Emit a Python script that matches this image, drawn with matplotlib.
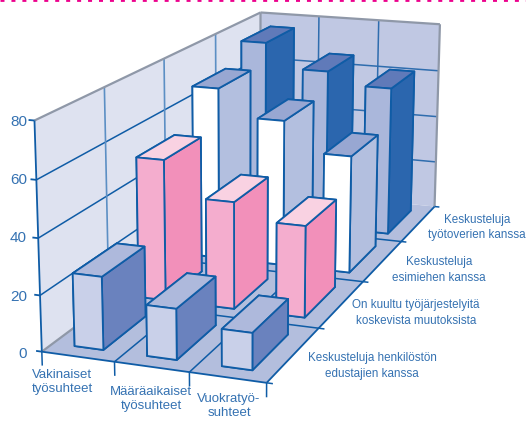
import matplotlib
matplotlib.use("Agg")
import matplotlib.pyplot as plt
from matplotlib.lines import Line2D
from mpl_toolkits.mplot3d.art3d import Poly3DCollection

plt.rcParams["font.family"] = ["Liberation Sans", "DejaVu Sans"]

employment = ["Vakinaiset\ntyösuhteet", "Määräaikaiset\ntyösuhteet", "Vuokratyö-\nsuhteet"]
topics = ["Keskusteluja henkilöstön\nedustajien kanssa",
          "On kuultu työjärjestelyitä\nkoskevista muutoksista",
          "Keskusteluja\nesimiehen kanssa",
          "Keskusteluja\ntyötoverien kanssa"]
z_ticks = [0, 20, 40, 60, 80]

# one list per topic, front row first, one value per employment type
staff_reps = [26, 18, 13]
reorganisation = [53, 40, 34]
supervisor = [68, 57.5, 46]
coworkers = [76, 66, 61]
rows = [staff_reps, reorganisation, supervisor, coworkers]

# front, top and side colour of the bars in each row
row_colors = [("#C9D0E9", "#AEB9DC", "#6A82BE"),
              ("#F4ADCE", "#F9D2E2", "#F290BA"),
              ("#FFFFFF", "#98A7D2", "#B3BFDF"),
              ("#AAB7DB", "#607AB9", "#2B66AE")]
BLUE = "#0F5CA6"
TEXT = "#3572B2"
GREY = "#8F98A8"
W, H = 526, 421

fig = plt.figure(figsize=(W / 100, H / 100), dpi=100)
size = 624.38
ax = fig.add_axes([-57.52 / W, -69.30 / H, size / W, size / H], projection="3d")
ax.set_box_aspect((1, 2.6842, 0.9952))
ax.view_init(elev=15.0786, azim=-70.2299, roll=-0.1716)
ax.set_proj_type("persp", focal_length=0.5214)
ax.set_axis_off()
ax.computed_zorder = False

nx, ny, zmax = len(employment), len(topics), z_ticks[-1]

# floor and the two walls
panes = [([(0, 0, 0), (nx, 0, 0), (nx, ny, 0), (0, ny, 0)], "#B3BEDD"),
         ([(0, 0, 0), (0, ny, 0), (0, ny, zmax), (0, 0, zmax)], "#DEE2F0"),
         ([(0, ny, 0), (nx, ny, 0), (nx, ny, zmax), (0, ny, zmax)], "#C0C8E3")]
for verts, color in panes:
    ax.add_collection3d(Poly3DCollection([verts], facecolors=color, edgecolors="none", zorder=1))


def line(xs, ys, zs, color=BLUE, lw=1.1, z=2):
    ax.plot(xs, ys, zs, color=color, lw=lw, zorder=z, solid_capstyle="butt")


# grid on the walls and the floor
for tick in z_ticks[1:-1]:
    line([0, 0], [0, ny], [tick, tick])
    line([0, nx], [ny, ny], [tick, tick], color="#2F6DAE")
for k in range(1, ny):
    line([0, 0], [k, k], [0, zmax], color="#5C8FC4", lw=1.2)
    line([0, nx + 0.08], [k, k], [0, 0])
for i in range(1, nx):
    line([i, i], [ny, ny], [0, zmax], color="#2F6DAE")
    line([i, i], [0, ny], [0, 0])

# frame
line([0, 0], [0, ny], [zmax, zmax], color=GREY, lw=1.6, z=3)
line([0, nx], [ny, ny], [zmax, zmax], color=GREY, lw=1.6, z=3)
line([nx, nx], [ny, ny], [0, zmax], color=GREY, lw=1.6, z=3)
line([0, 0], [ny, ny], [0, zmax], color=GREY, lw=1.6, z=3)
line([0, 0], [0, ny], [0, 0], color=GREY, lw=1.6, z=3)
line([0, 0], [0, 0], [0, zmax], lw=1.3, z=3)
line([0, nx], [0, 0], [0, 0], lw=1.3, z=3)
line([nx, nx], [0, ny], [0, 0], lw=1.3, z=3)

# tick stubs
for tick in z_ticks:
    line([-0.08, 0], [0, 0], [tick, tick], lw=1.3, z=3)
for i in range(nx + 1):
    line([i, i], [0, 0], [-5, 0], lw=1.1, z=3)
line([nx, nx + 0.08], [0, 0], [0, 0], lw=1.1, z=3)
line([nx, nx + 0.08], [ny, ny], [0, 0], lw=1.1, z=3)

# bars, drawn from the back row forward so nearer ones overlap
order = 10
for j in range(ny - 1, -1, -1):
    front, top, side = row_colors[j]
    for i in range(nx):
        # face order of bar3d: bottom, top, -y, +y, -x, +x
        ax.bar3d(i + 0.3, j + 0.16, 0, 0.4, 0.66, rows[j][i],
                 color=[front, top, front, front, front, side],
                 shade=False, edgecolor=BLUE, linewidth=1.3, zorder=order)
        order += 1

ax.set_xlim(0, nx, view_margin=0)
ax.set_ylim(0, ny, view_margin=0)
ax.set_zlim(0, zmax, view_margin=0)


def label(px, py, text, size, spacing=1.0, ha="center"):
    fig.text(px / W, 1 - py / H, text, fontsize=size, color=TEXT, ha=ha, va="center",
             linespacing=spacing)


for tick, py in zip(z_ticks, [354, 297, 238, 180, 122]):
    label(27, py, str(tick), 11, ha="right")
for text, px, py in zip(employment, [62, 151, 229], [382, 399, 406]):
    label(px, py, text, 9.5, spacing=1.2)
for text, px, py in zip(topics, [372, 416, 439, 477], [366, 313, 270, 227.5]):
    label(px, py, text, 8.4, spacing=1.36)

# dotted rule along the top edge of the page
fig.add_artist(Line2D([0, 1], [1, 1], transform=fig.transFigure, color="#EC008C",
                      lw=2, dashes=(1.44, 2.5)))

fig.savefig("out.png", dpi=100)
